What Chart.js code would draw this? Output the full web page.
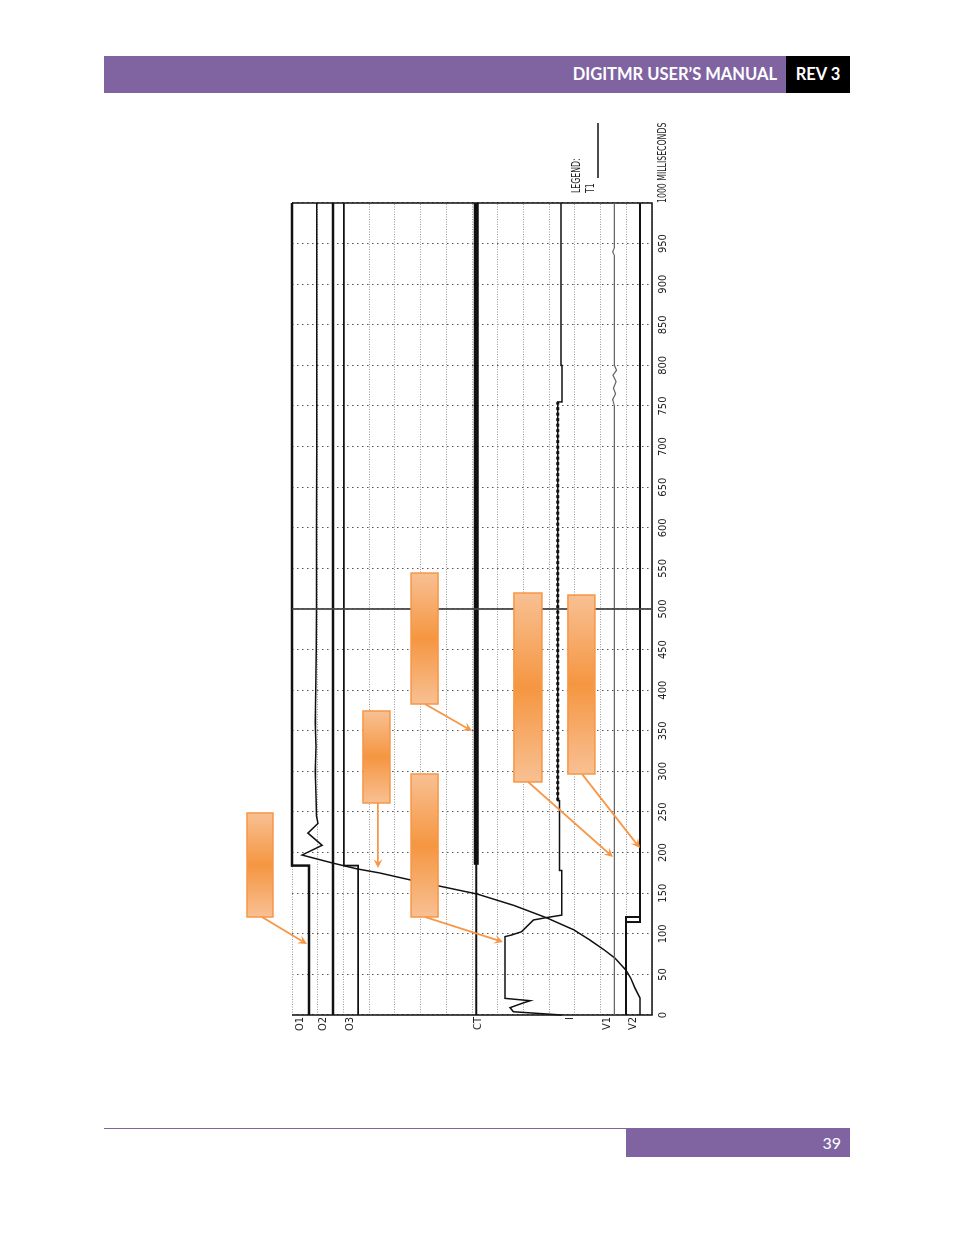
<!DOCTYPE html>
<html>
<head>
<meta charset="utf-8">
<title>DigiTMR timing record</title>
<script src="https://cdn.jsdelivr.net/npm/chart.js@4.4.0/dist/chart.umd.min.js"></script>
<style>
html, body { margin: 0; padding: 0; background: #fff; }
body { width: 954px; height: 1235px; position: relative; overflow: hidden; font-family: Lato, 'Open Sans', sans-serif; }
.header { position: absolute; left: 104px; top: 56px; width: 682px; height: 37px; background: #8064A2; }
.header span { position: absolute; right: 9px; top: 0; line-height: 37px; color: #fff; font-weight: 700; font-size: 16.5px; }
.rev { position: absolute; left: 786px; top: 56px; width: 64px; height: 37px; background: #000; color: #fff; font-weight: 700; font-size: 16.5px; line-height: 37px; text-align: center; }
.footline { position: absolute; left: 104px; top: 1128px; width: 522px; height: 1px; background: #8064A2; }
.pagebox { position: absolute; left: 626px; top: 1128px; width: 224px; height: 29px; background: #8064A2; color: #fff; font-size: 16px; line-height: 29px; text-align: right; }
.pagebox span { margin-right: 9px; }
/* the record is printed landscape and turned a quarter to the left on the page */
.chart-wrap { position: absolute; left: -10px; top: 350px; width: 940px; height: 440px; transform: rotate(-90deg); }
</style>
</head>
<body>
<div class="header"><span>DIGITMR USER’S MANUAL</span></div>
<div class="rev">REV 3</div>

<div class="chart-wrap"><canvas id="timing" width="940" height="440"></canvas></div>

<div class="footline"></div>
<div class="pagebox"><span>39</span></div>

<script>
/* ======================================================================
DATA  (time in milliseconds, level in chart divisions: 0 = O1 edge, 14 = V2 edge)
====================================================================== */
const channelNames = ['O1', 'O2', 'O3', 'CT', 'I', 'V1', 'V2'];
const channelLabelLevels = [0.31, 1.22, 2.26, 7.25, 10.81, 12.24, 13.27];

const o1Time = [0, 184, 184, 1000];
const o1Level = [0.66, 0.66, 0, 0];

const o2Time = [0, 1000];
const o2Level = [1.59, 1.59];

const o3Time = [0, 184, 184, 1000];
const o3Level = [2.57, 2.57, 2.02, 2.02];

const ctTime = [0, 1000];
const ctLevel = [7.17, 7.17];
const ctHeavyTime = [185, 1000];
const ctHeavyLevel = [7.17, 7.17];

const iTime = [0, 4, 9, 15, 17.6, 20.5, 96.5, 98.5, 102.6, 117, 120, 123, 178, 178, 264, 264, 755, 755, 800, 800, 1000];
const iLevel = [10.49, 8.61, 8.48, 9.0, 9.26, 8.28, 8.28, 8.54, 8.93, 9.39, 9.9, 10.49, 10.49, 10.4, 10.4, 10.33, 10.33, 10.5, 10.5, 10.46, 10.46];
const iNoiseTime = [264, 755];
const iNoiseLevel = [10.33, 10.33];

const v1Time = [0, 750, 758, 765, 772, 780, 788, 794, 800, 935, 940, 945, 1000];
const v1Level = [12.54, 12.54, 12.47, 12.58, 12.5, 12.6, 12.48, 12.62, 12.54, 12.54, 12.47, 12.54, 12.54];

const v2Time = [0, 120.7, 120.7, 114.5, 114.5, 114.5, 1000];
const v2Level = [12.99, 12.99, 13.53, 13.53, 12.99, 13.53, 13.53];

const t1Time = [0, 21, 33, 45, 55, 70, 80, 92, 105, 120, 135, 149, 158, 166, 175, 180, 187, 194, 197, 209, 224, 236, 245, 270, 300, 330, 360, 400, 450, 500, 600, 700, 800, 900, 1000];
const t1Level = [13.53, 13.53, 13.34, 13.18, 12.99, 12.56, 12.15, 11.6, 10.95, 9.88, 8.62, 7.2, 5.85, 4.65, 3.4, 2.52, 1.6, 0.75, 0.39, 1.17, 0.62, 1.01, 0.95, 0.93, 0.9, 0.93, 0.9, 0.92, 0.94, 0.95, 0.95, 0.96, 0.96, 0.96, 0.96];

const cursorTime = 500;
const timeStep = 50;

// callout boxes: [time from, time to, level from, level to]
const calloutBoxes = [
  [120.7, 248.8, -1.75, -0.74],
  [261.1, 374.4, 2.76, 3.81],
  [383, 544.3, 4.63, 5.68],
  [120.7, 296.8, 4.63, 5.68],
  [287, 519.7, 8.63, 9.72],
  [296.8, 517.2, 10.73, 11.78]
];
// callout arrows: [time from, level from, time to, level to]
const calloutArrows = [
  [120.7, -1.17, 87.4, 0.58],
  [261.1, 3.34, 181, 3.34],
  [383, 5.17, 349.8, 7.0],
  [120.7, 5.17, 89.9, 8.21],
  [287, 9.18, 194.6, 12.48],
  [296.8, 11.28, 205.7, 13.53]
];

/* ======================================================================
Helpers
====================================================================== */
const plotFont = "'Liberation Sans Narrow', 'DejaVu Sans Condensed', 'Liberation Sans', sans-serif";
const ink = '#111';
const orange = '#F79646';

function pairs(times, levels) {
  return times.map((t, i) => ({ x: t, y: levels[i] }));
}

function trace(data, width, color, extra) {
  return Object.assign({
    data: data,
    showLine: true,
    borderColor: color || ink,
    borderWidth: width,
    pointRadius: 0,
    tension: 0,
    fill: false,
    clip: false
  }, extra || {});
}

function drawArrow(ctx, x1, y1, x2, y2) {
  const a = Math.atan2(y2 - y1, x2 - x1);
  const len = 9, half = 4.5;
  ctx.beginPath();
  ctx.moveTo(x1, y1);
  ctx.lineTo(x2 - Math.cos(a) * 5, y2 - Math.sin(a) * 5);
  ctx.stroke();
  ctx.beginPath();
  ctx.moveTo(x2, y2);
  ctx.lineTo(x2 - Math.cos(a) * len - Math.sin(a) * half, y2 - Math.sin(a) * len + Math.cos(a) * half);
  ctx.lineTo(x2 - Math.cos(a) * len * 0.6, y2 - Math.sin(a) * len * 0.6);
  ctx.lineTo(x2 - Math.cos(a) * len + Math.sin(a) * half, y2 - Math.sin(a) * len - Math.cos(a) * half);
  ctx.closePath();
  ctx.fill();
}

// plotter lettering is narrow: squeeze text along its run
function narrowText(ctx, text, x, y) {
  ctx.save();
  ctx.translate(x, y);
  ctx.scale(0.72, 1);
  ctx.fillText(text, 0, 0);
  ctx.restore();
}

/* ======================================================================
Plugins
====================================================================== */
const framePlugin = {
  id: 'frame',
  beforeDatasetsDraw(chart) {
    const ctx = chart.ctx, x = chart.scales.x, y = chart.scales.y;
    ctx.save();
    ctx.strokeStyle = ink;
    ctx.lineWidth = 1.5;
    ctx.beginPath();
    ctx.moveTo(x.getPixelForValue(x.min), y.getPixelForValue(y.min));
    ctx.lineTo(x.getPixelForValue(x.min), y.getPixelForValue(y.max));
    ctx.lineTo(x.getPixelForValue(x.max), y.getPixelForValue(y.max));
    ctx.lineTo(x.getPixelForValue(x.max), y.getPixelForValue(y.min));
    ctx.stroke();
    ctx.restore();
  },
  afterDatasetsDraw(chart) {
    const ctx = chart.ctx, x = chart.scales.x, y = chart.scales.y;
    ctx.save();
    calloutBoxes.forEach(b => {
      const x0 = x.getPixelForValue(b[0]), x1 = x.getPixelForValue(b[1]);
      const y0 = y.getPixelForValue(b[2]), y1 = y.getPixelForValue(b[3]);
      const g = ctx.createLinearGradient(x0, 0, x1, 0);
      g.addColorStop(0, '#F8C093');
      g.addColorStop(0.5, '#F59641');
      g.addColorStop(1, '#F8C093');
      ctx.fillStyle = g;
      ctx.fillRect(x0, Math.min(y0, y1), x1 - x0, Math.abs(y1 - y0));
      ctx.strokeStyle = orange;
      ctx.lineWidth = 1.5;
      ctx.strokeRect(x0, Math.min(y0, y1), x1 - x0, Math.abs(y1 - y0));
    });
    ctx.strokeStyle = orange;
    ctx.fillStyle = orange;
    ctx.lineWidth = 1.8;
    calloutArrows.forEach(a => {
      drawArrow(ctx, x.getPixelForValue(a[0]), y.getPixelForValue(a[1]),
        x.getPixelForValue(a[2]), y.getPixelForValue(a[3]));
    });
    ctx.restore();
  },
  afterDraw(chart) {
    const ctx = chart.ctx, area = chart.chartArea, x = chart.scales.x;
    ctx.save();
    ctx.fillStyle = '#222';
    ctx.font = '12px ' + plotFont;
    ctx.textBaseline = 'top';
    ctx.textAlign = 'left';
    // last time label carries the unit
    narrowText(ctx, x.max + ' MILLISECONDS', x.getPixelForValue(x.max), area.bottom + 5);
    // legend
    ctx.textBaseline = 'middle';
    narrowText(ctx, 'LEGEND:', area.right + 10, area.bottom - 75);
    narrowText(ctx, 'T1', area.right + 10, area.bottom - 61);
    ctx.strokeStyle = ink;
    ctx.lineWidth = 1.5;
    ctx.beginPath();
    ctx.moveTo(area.right + 25, area.bottom - 54);
    ctx.lineTo(area.right + 80, area.bottom - 54);
    ctx.stroke();
    ctx.restore();
  }
};

/* ======================================================================
Chart
====================================================================== */
const timingCanvas = document.getElementById('timing');

const timingData = {
  datasets: [
    trace(pairs([cursorTime, cursorTime], [0, 14]), 1, '#444'),
    trace(pairs(o1Time, o1Level), 2.5),
    trace(pairs(o2Time, o2Level), 2.5),
    trace(pairs(o3Time, o3Level), 1.8),
    trace(pairs(ctTime, ctLevel), 2),
    trace(pairs(ctHeavyTime, ctHeavyLevel), 5),
    trace(pairs(iTime, iLevel), 1.5),
    trace(pairs(iNoiseTime, iNoiseLevel), 3, ink, { borderDash: [3, 2.5] }),
    trace(pairs(v1Time, v1Level), 1.2, '#666'),
    trace(pairs(v2Time, v2Level), 2),
    trace(pairs(t1Time, t1Level), 1.5)
  ]
};

const timingOptions = {
  responsive: false,
  animation: false,
  layout: { padding: { top: 52, right: 103, left: 0, bottom: 0 } },
  plugins: { legend: { display: false }, tooltip: { enabled: false } },
  scales: {
    x: {
      type: 'linear',
      position: 'bottom',
      min: 0,
      max: 1000,
      grid: { color: '#555', lineWidth: 1, drawTicks: false },
      border: { display: false, dash: [1.5, 3.5] },
      ticks: {
        stepSize: timeStep,
        autoSkip: false,
        maxRotation: 0,
        padding: 5,
        color: '#222',
        font: { family: plotFont, size: 11 },
        callback: v => (v === 1000 ? '' : v)
      },
      afterFit: s => { s.height = 28; }
    },
    y: {
      type: 'linear',
      position: 'left',
      min: 0,
      max: 14,
      reverse: true,
      grid: { color: '#999', lineWidth: 1, drawTicks: false },
      border: { display: false, dash: [1, 1.5] },
      ticks: { display: false, stepSize: 1 },
      afterFit: s => { s.width = 0; }
    },
    names: {
      type: 'linear',
      position: 'left',
      min: 0,
      max: 14,
      reverse: true,
      grid: { display: false, drawTicks: false },
      border: { display: false },
      ticks: {
        padding: 2,
        color: '#222',
        font: { family: plotFont, size: 11 },
        callback: (v, i) => channelNames[i]
      },
      afterBuildTicks: s => { s.ticks = channelLabelLevels.map(v => ({ value: v })); },
      afterFit: s => { s.width = 25; }
    }
  }
};

const timingChart = new Chart(timingCanvas, {
  type: 'scatter',
  data: timingData,
  options: timingOptions,
  plugins: [framePlugin]
});
</script>
</body>
</html>
